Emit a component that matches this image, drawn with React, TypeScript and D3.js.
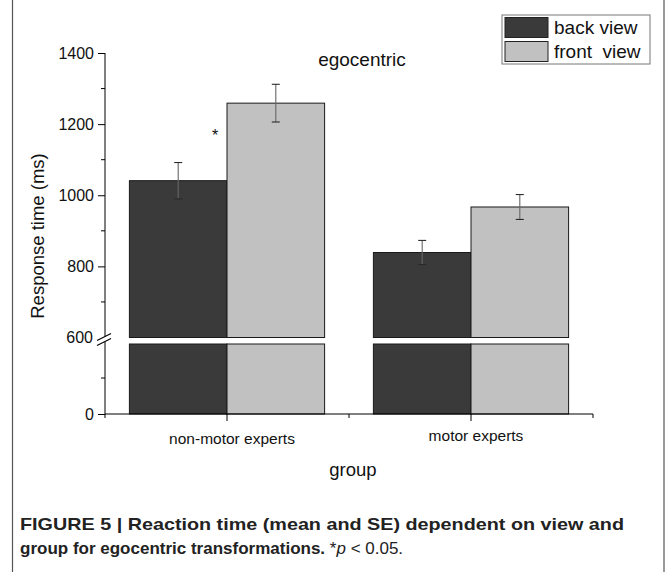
import React, { useRef, useEffect } from "react";
import * as d3 from "d3";

// data
const groups = ["non-motor experts", "motor experts"];
const views = ["back view", "front view"];
const meanBack = [1041, 839];
const meanFront = [1259, 967];
const seBack = [51, 34];
const seFront = [53, 35];
const upperTicks = [800, 1000, 1200, 1400];
const upperMinor = [700, 900, 1100, 1300];
const lowerTicks = [0];
const lowerMinor = [300];

const W = 668;
const H = 572;
const FONT = "'Liberation Sans', Arial, sans-serif";
const colors = ["#3a3a3a", "#c1c1c1"];

const App = () => {
  const ref = useRef(null);

  useEffect(() => {
    const svg = d3.select(ref.current);
    svg.selectAll("*").remove();

    const x0 = 105;
    const x1 = 593;
    const yBase = 414;
    const breakTop = 337.5; // bottom of upper segment
    const breakBottom = 344; // top of lower segment

    const xScale = d3
      .scaleBand()
      .domain(groups)
      .range([x0, x1])
      .paddingInner(0.2)
      .paddingOuter(0.1);
    const xInner = d3.scaleBand().domain(views).range([0, xScale.bandwidth()]);

    // broken y axis: two linear pieces
    const yUp = d3.scaleLinear().domain([600, 1400]).range([breakTop, 53]);
    const yLow = d3.scaleLinear().domain([0, 600]).range([yBase, 342]);
    const lowTopValue = yLow.invert(breakBottom);

    const rows = groups.flatMap((g, i) => [
      { g, v: views[0], mean: meanBack[i], se: seBack[i], c: colors[0] },
      { g, v: views[1], mean: meanFront[i], se: seFront[i], c: colors[1] },
    ]);

    svg.append("rect").attr("width", W).attr("height", H).attr("fill", "#fff");

    // frame lines
    svg.append("line").attr("x1", 12.5).attr("x2", 12.5).attr("y1", 0).attr("y2", H).attr("stroke", "#555").attr("stroke-width", 1.2);
    svg.append("line").attr("x1", 664).attr("x2", 664).attr("y1", 0).attr("y2", H).attr("stroke", "#555").attr("stroke-width", 1.2);

    const bars = svg.append("g");
    // lower pieces
    bars
      .selectAll("rect.low")
      .data(rows)
      .join("rect")
      .attr("class", "low")
      .attr("x", (d) => xScale(d.g)! + xInner(d.v)!)
      .attr("width", xInner.bandwidth())
      .attr("y", yLow(lowTopValue))
      .attr("height", yLow(0) - yLow(lowTopValue))
      .attr("fill", (d) => d.c)
      .attr("stroke", "#1a1a1a")
      .attr("stroke-width", 1);
    // upper pieces
    bars
      .selectAll("rect.up")
      .data(rows)
      .join("rect")
      .attr("class", "up")
      .attr("x", (d) => xScale(d.g)! + xInner(d.v)!)
      .attr("width", xInner.bandwidth())
      .attr("y", (d) => yUp(d.mean))
      .attr("height", (d) => yUp(600) - yUp(d.mean))
      .attr("fill", (d) => d.c)
      .attr("stroke", "#1a1a1a")
      .attr("stroke-width", 1);

    // error bars
    const err = svg.append("g").attr("stroke", "#2a2a2a").attr("stroke-width", 1.1);
    rows.forEach((d) => {
      const cx = xScale(d.g)! + xInner(d.v)! + xInner.bandwidth() / 2;
      const t = yUp(d.mean + d.se);
      const b = yUp(d.mean - d.se);
      err.append("line").attr("x1", cx).attr("x2", cx).attr("y1", t).attr("y2", b).attr("stroke", "#666");
      err.append("line").attr("x1", cx - 4).attr("x2", cx + 4).attr("y1", t).attr("y2", t);
      err.append("line").attr("x1", cx - 4).attr("x2", cx + 4).attr("y1", b).attr("y2", b);
    });

    // y axis upper
    const yAxisUp = svg
      .append("g")
      .attr("transform", `translate(${x0},0)`)
      .call(d3.axisLeft(yUp).tickValues(upperTicks).tickSize(7).tickPadding(4).tickFormat(d3.format("d")));
    yAxisUp.select(".domain").remove();
    yAxisUp
      .append("g")
      .selectAll("line")
      .data(upperMinor)
      .join("line")
      .attr("x1", -4)
      .attr("x2", 0)
      .attr("y1", (d) => yUp(d))
      .attr("y2", (d) => yUp(d))
      .attr("stroke", "#000");
    yAxisUp.append("line").attr("x1", 0).attr("x2", 0).attr("y1", yUp(1400)).attr("y2", breakTop - 1).attr("stroke", "#000");

    // y axis lower
    const yAxisLow = svg
      .append("g")
      .attr("transform", `translate(${x0},0)`)
      .call(d3.axisLeft(yLow).tickValues(lowerTicks).tickSize(7).tickPadding(4));
    yAxisLow.select(".domain").remove();
    yAxisLow
      .selectAll("line.minor")
      .data(lowerMinor)
      .join("line")
      .attr("class", "minor")
      .attr("x1", -4)
      .attr("x2", 0)
      .attr("y1", (d) => yLow(d))
      .attr("y2", (d) => yLow(d))
      .attr("stroke", "#000");
    yAxisLow.append("line").attr("x1", 0).attr("x2", 0).attr("y1", breakBottom - 2).attr("y2", yBase).attr("stroke", "#000");

    [yAxisUp, yAxisLow].forEach((a) =>
      a.selectAll("text").attr("font-family", FONT).attr("font-size", 16).attr("fill", "#111")
    );

    // break marks and 600 label
    svg.append("line").attr("x1", x0 - 8).attr("y1", breakTop + 3).attr("x2", x0 + 6).attr("y2", breakTop - 4).attr("stroke", "#000").attr("stroke-width", 1.2);
    svg.append("line").attr("x1", x0 - 8).attr("y1", breakTop + 8).attr("x2", x0 + 6).attr("y2", breakTop + 1).attr("stroke", "#000").attr("stroke-width", 1.2);
    svg
      .append("text")
      .attr("x", x0 - 12)
      .attr("y", breakTop)
      .attr("dy", "0.32em")
      .attr("text-anchor", "end")
      .attr("font-family", FONT)
      .attr("font-size", 16)
      .attr("fill", "#111")
      .text("600");

    // x axis
    const xa = svg.append("g").attr("stroke", "#000");
    xa.append("line").attr("x1", x0).attr("x2", x1).attr("y1", yBase).attr("y2", yBase);
    groups.forEach((g) => {
      const c = xScale(g)! + xScale.bandwidth() / 2;
      xa.append("line").attr("x1", c).attr("x2", c).attr("y1", yBase).attr("y2", yBase + 7);
    });
    const bounds = [x0, ...groups.map((g) => xScale(g)! + xScale.step() - xScale.step() * 0.1)];
    bounds.forEach((b) => {
      xa.append("line").attr("x1", b).attr("x2", b).attr("y1", yBase).attr("y2", yBase + 4);
    });
    svg
      .append("g")
      .selectAll("text")
      .data(groups)
      .join("text")
      .attr("x", (g) => xScale(g)! + xScale.bandwidth() / 2 + 5)
      .attr("y", (g, i) => (i === 0 ? 444 : 441))
      .attr("text-anchor", "middle")
      .attr("font-family", FONT)
      .attr("font-size", 15.5)
      .attr("fill", "#111")
      .text((g) => g);

    // axis titles
    svg
      .append("text")
      .attr("x", 353)
      .attr("y", 476)
      .attr("text-anchor", "middle")
      .attr("font-family", FONT)
      .attr("font-size", 18.5)
      .attr("fill", "#111")
      .text("group");
    svg
      .append("text")
      .attr("transform", "translate(44,236) rotate(-90)")
      .attr("text-anchor", "middle")
      .attr("font-family", FONT)
      .attr("font-size", 18.5)
      .attr("fill", "#111")
      .text("Response time (ms)");

    // panel title and significance mark
    svg
      .append("text")
      .attr("x", 362)
      .attr("y", 66)
      .attr("text-anchor", "middle")
      .attr("font-family", FONT)
      .attr("font-size", 19)
      .attr("fill", "#111")
      .text("egocentric");
    svg
      .append("text")
      .attr("x", xScale(groups[0])! + xInner.bandwidth() - 12)
      .attr("y", 141)
      .attr("text-anchor", "middle")
      .attr("font-family", FONT)
      .attr("font-size", 16)
      .attr("fill", "#111")
      .text("*");

    // legend
    const lg = svg.append("g").attr("transform", "translate(502,15)");
    lg.append("rect").attr("width", 148).attr("height", 49).attr("fill", "#fff").attr("stroke", "#777").attr("stroke-width", 1);
    views.forEach((v, i) => {
      lg.append("rect")
        .attr("x", 3)
        .attr("y", 2.5 + i * 24)
        .attr("width", 43)
        .attr("height", 20)
        .attr("fill", colors[i])
        .attr("stroke", "#222");
      lg.append("text")
        .attr("x", 52)
        .attr("y", 19 + i * 24)
        .attr("font-family", FONT)
        .attr("font-size", 19)
        .attr("fill", "#111")
        .style("white-space", "pre")
        .text(i === 0 ? "back view" : "front  view");
    });

    // caption
    const cap = svg.append("g").attr("font-family", FONT).attr("font-size", 17).attr("fill", "#222");
    cap
      .append("text")
      .attr("x", 20)
      .attr("y", 530)
      .attr("font-weight", "bold")
      .attr("textLength", 604)
      .attr("lengthAdjust", "spacingAndGlyphs")
      .text("FIGURE 5 | Reaction time (mean and SE) dependent on view and");
    const l2 = cap.append("text").attr("x", 20).attr("y", 554);
    l2.append("tspan").attr("font-weight", "bold").text("group for egocentric transformations. ");
    l2.append("tspan").text("*");
    l2.append("tspan").attr("font-style", "italic").text("p");
    l2.append("tspan").text(" < 0.05.");

    return () => undefined;
  }, []);

  return (
    <svg
      ref={ref}
      width={W}
      height={H}
      style={{ position: "absolute", left: 0, top: 0, display: "block" }}
    />
  );
};

export default App;
